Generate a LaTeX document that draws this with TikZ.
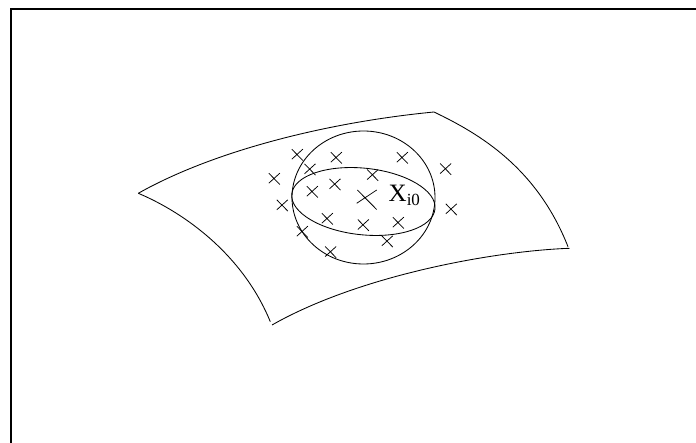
\documentclass[tikz,border=0pt]{standalone}
\usepackage{fontspec}
\setmainfont{Liberation Serif}
\tikzset{curve/.style={line width=0.85pt,black},
  frameline/.style={line width=2pt,black},
  tick/.style={line width=0.75pt,black}}
\begin{document}
\begin{tikzpicture}[x=1pt,y=-1pt]
\useasboundingbox (0,0) rectangle (696,443);
\draw[frameline] (11,443) -- (11,9.3) -- (696,9.3);
% surface
\draw[curve] (138.3,193.3) .. controls (215,150) and (330,122) .. (434,112);
\draw[curve] (434,112) .. controls (480,134) and (537,168) .. (568,246.7);
\draw[curve] (569.5,248.3) .. controls (495,251) and (360,275) .. (272,325);
\draw[curve] (138.3,193.3) .. controls (185,213) and (243,255) .. (270.3,321.7);
% sphere and equator
\draw[curve] (363.5,197.5) ellipse [x radius=71.5,y radius=66.5];
\draw[curve,rotate around={-6:(363.4,201.5)}] (363.4,201.5) ellipse [x radius=72,y radius=33.3];
% small crosses
\foreach \x/\y in {297.3/154.7,336.3/157.7,402.3/157.7,445.7/169,274.3/178.7,310/169.3,372.7/175,335/184.3,312.3/191.7,282.3/205.3,451.3/209.3,327.3/218.7,363.3/225,398.3/222.7,302.3/231.7,387.3/241.3,330.7/252}
  \draw[tick] (\x-5.5,\y-5.5) -- (\x+5.5,\y+5.8) (\x-5.5,\y+4.5) -- (\x+5.5,\y-5.5);
\draw[tick] (357.3,190) -- (376.7,209.5) (356.7,203.3) -- (376.7,190);
\node[inner sep=0pt,anchor=base west,font=\fontsize{25}{25}\selectfont] (label) at (388.5,201.7) {X\raisebox{-0.16em}{\fontsize{17}{17}\selectfont i0}};
\end{tikzpicture}
\end{document}
